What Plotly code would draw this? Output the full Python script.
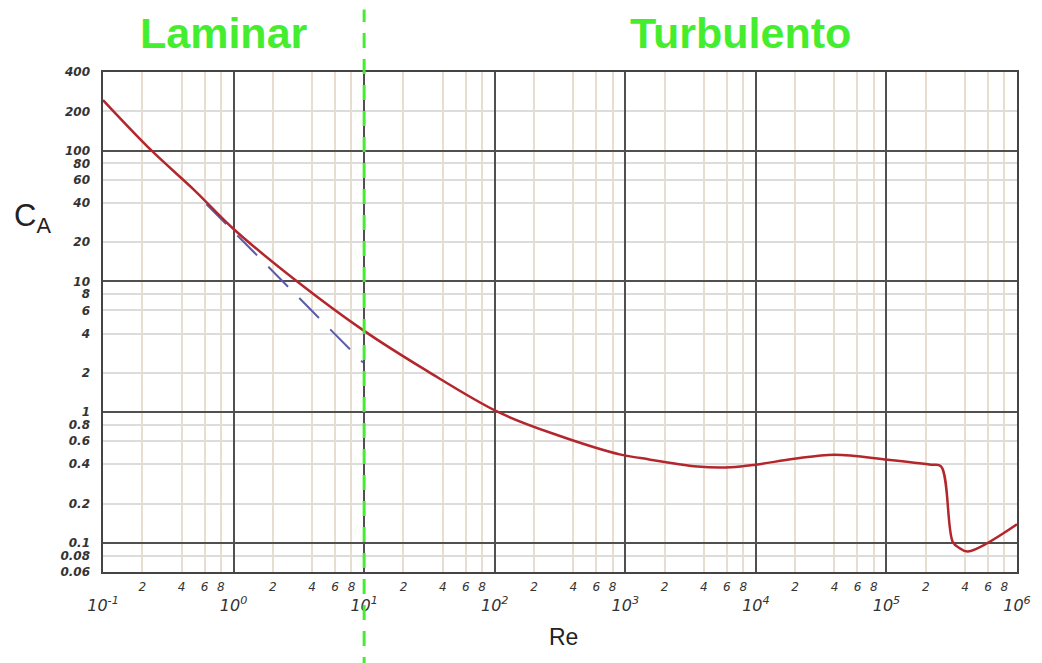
import plotly.graph_objects as go
import math

# ---- data ----
re_curve = [0.1, 0.236, 0.5, 1.0, 3.07, 10, 30.3, 107, 300, 923, 1312, 3570, 6430, 1.0e4,
            1.97e4, 3.99e4, 1.02e5, 2.2e5, 2.62e5, 3.22e5, 3.6e5, 4.2e5, 1.0e6]
ca_curve = [244, 100, 50, 25.2, 10, 4.19, 2.07, 1.0, 0.67, 0.474, 0.446, 0.385, 0.38, 0.397,
            0.441, 0.474, 0.434, 0.397, 0.385, 0.102, 0.092, 0.086, 0.139]

re_stokes = [0.62, 9.8]
ca_stokes = [39, 2.4]

x_major = [0.1, 1, 10, 100, 1e3, 1e4, 1e5, 1e6]
x_major_text = ["10<sup>-1</sup>", "10<sup>0</sup>", "10<sup>1</sup>", "10<sup>2</sup>",
                "10<sup>3</sup>", "10<sup>4</sup>", "10<sup>5</sup>", "10<sup>6</sup>"]
x_minor_mult = [2, 4, 6, 8]

y_major = [0.1, 1, 10, 100]
y_labels = [400, 200, 100, 80, 60, 40, 20, 10, 8, 6, 4, 2, 1, 0.8, 0.6, 0.4, 0.2, 0.1, 0.08, 0.06]
y_label_text = ["400", "200", "100", "80", "60", "40", "20", "10", "8", "6", "4", "2", "1",
                "0.8", "0.6", "0.4", "0.2", "0.1", "0.08", "0.06"]

x_range = [0.1, 1e6]
y_range = [0.06, 400]
transition_re = 10

# ---- derived ----
x_minor = [m * d for d in x_major[:-1] for m in x_minor_mult]
x_minor_text = [str(m) for d in x_major[:-1] for m in x_minor_mult]
y_minor = [v for v in y_labels if v not in y_major]

tick_font = dict(family="DejaVu Sans", size=12, color="#333333", style="italic", weight="bold")
minor_font = dict(family="DejaVu Sans", size=12, color="#333333", style="italic")
green = "#44EE2E"

fig = go.Figure()
fig.add_trace(go.Scatter(x=re_stokes, y=ca_stokes, mode="lines",
                         line=dict(color="#5a5ca8", width=2, dash="28px,16px"),
                         showlegend=False, hoverinfo="skip"))
fig.add_trace(go.Scatter(x=re_curve, y=ca_curve, mode="lines",
                         line=dict(color="#b3262c", width=2.5, shape="spline", smoothing=1.0),
                         showlegend=False))
# invisible trace to activate overlay axes
fig.add_trace(go.Scatter(x=x_range, y=y_range, xaxis="x2", yaxis="y2", mode="none",
                         showlegend=False, hoverinfo="skip"))

lx = [math.log10(v) for v in x_range]
ly = [math.log10(v) for v in y_range]

fig.update_layout(
    width=1042, height=663,
    margin=dict(l=103, r=25, t=72, b=91),
    paper_bgcolor="white", plot_bgcolor="white",
    xaxis=dict(type="log", range=lx, tickvals=x_major, ticktext=x_major_text,
               showgrid=True, gridcolor="#505050", gridwidth=2,
               showline=True, linecolor="#444444", linewidth=2, mirror=True,
               ticks="", ticklabelstandoff=18, tickfont=dict(tick_font, size=16, weight="normal"),
               minor=dict(tickvals=x_minor, showgrid=True, gridcolor="#e9ddd0", gridwidth=1.5, ticks=""),
               zeroline=False),
    xaxis2=dict(type="log", range=lx, overlaying="x", side="bottom", anchor="y",
                tickvals=x_minor, ticktext=x_minor_text, showgrid=False, ticks="",
                ticklabelstandoff=6, tickfont=minor_font, showline=False, zeroline=False),
    yaxis=dict(type="log", range=ly, tickvals=y_major, showticklabels=False,
               showgrid=True, gridcolor="#505050", gridwidth=2,
               showline=True, linecolor="#444444", linewidth=2, mirror=True, ticks="",
               minor=dict(tickvals=y_minor, showgrid=True, gridcolor="#dcdcdc", gridwidth=1.5, ticks=""),
               zeroline=False),
    yaxis2=dict(type="log", range=ly, overlaying="y", side="left", anchor="x",
                tickvals=y_labels, ticktext=y_label_text, showgrid=False, ticks="",
                ticklabelstandoff=12, tickfont=tick_font, showline=False, zeroline=False),
    shapes=[dict(type="line", xref="x", yref="paper", x0=transition_re, x1=transition_re,
                 y0=-0.2, y1=1.125, line=dict(color=green, width=3, dash="15px,11px"), layer="above")],
    annotations=[
        dict(text="<b>Laminar</b>", xref="paper", yref="paper", x=(224 - 103) / 914, y=1.078,
             xanchor="center", yanchor="middle", showarrow=False,
             font=dict(family="Liberation Sans", size=43, color=green)),
        dict(text="<b>Turbulento</b>", xref="paper", yref="paper", x=(740 - 103) / 914, y=1.078,
             xanchor="center", yanchor="middle", showarrow=False,
             font=dict(family="Liberation Sans", size=43, color=green)),
        dict(text="C<sub>A</sub>", xref="paper", yref="paper", x=(32 - 103) / 914, y=(572 - 218) / 500,
             xanchor="center", yanchor="middle", showarrow=False,
             font=dict(family="Liberation Sans", size=31, color="#222222")),
        dict(text="Re", xref="paper", yref="paper", x=(563 - 103) / 914, y=(572 - 637) / 500,
             xanchor="center", yanchor="middle", showarrow=False,
             font=dict(family="Liberation Sans", size=23, color="#222222")),
    ],
)

fig.write_html("out.html")
